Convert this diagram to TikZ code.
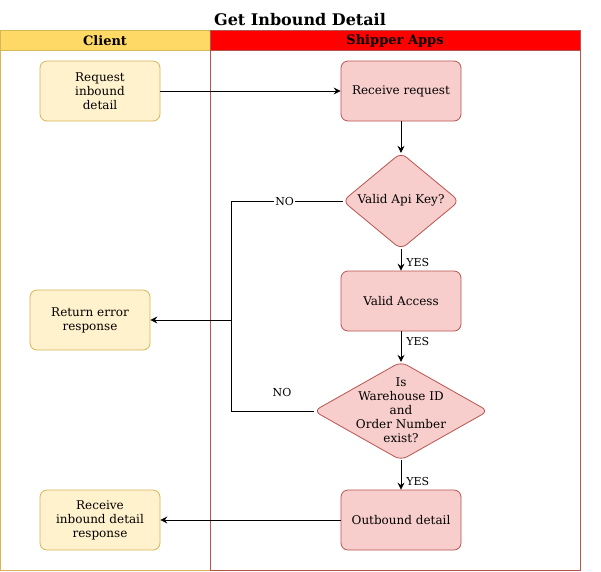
\documentclass[tikz,border=0pt]{standalone}
\usepackage{fontspec}
\setmainfont{DejaVu Serif}
\usetikzlibrary{shapes.geometric,arrows.meta}
\definecolor{clientfill}{HTML}{FFD966}
\definecolor{clientline}{HTML}{D6B656}
\definecolor{ylfill}{HTML}{FFF2CC}
\definecolor{rdfill}{HTML}{F8CECC}
\definecolor{rdline}{HTML}{B85450}
\tikzset{
  ybox/.style={draw=clientline,fill=ylfill,line width=0.8pt,rounded corners=7pt,minimum width=120pt,minimum height=60pt,align=center,font=\fontsize{12}{14}\selectfont,inner sep=2pt},
  rbox/.style={draw=rdline,fill=rdfill,line width=0.8pt,rounded corners=7pt,minimum width=120pt,minimum height=60pt,align=center,font=\fontsize{12}{14}\selectfont,inner sep=2pt},
  rdia/.style={rectangle,align=center,font=\fontsize{12}{14}\selectfont,inner sep=0pt},
  diapath/.style={draw=rdline,fill=rdfill,rounded corners=7pt,line width=0.8pt},
  conn/.style={draw=black,line width=0.8pt,-{Stealth[length=7pt,width=7pt,inset=2.5pt]}},
  lbl/.style={font=\fontsize{11}{13}\selectfont,fill=white,inner sep=1pt},
  lblc/.style={font=\fontsize{11}{13}\selectfont,inner sep=1pt},
  hdr/.style={font=\bfseries\fontsize{13}{15}\selectfont}
}
\begin{document}
\begin{tikzpicture}[x=1pt,y=-1pt]
\useasboundingbox (0,0) rectangle (601,571);
% title
\node[font=\bfseries\fontsize{16}{18}\selectfont] (title) at (300,20) {Get Inbound Detail};
% lanes
\draw[clientline,fill=white,line width=0.8pt] (0,30) rectangle (210,570);
\draw[clientline,fill=clientfill,line width=0.8pt] (0,30) rectangle (210,50);
\node[hdr] (hclient) at (105,40.5) {Client};
\draw[rdline,fill=white,line width=0.8pt] (210,30) rectangle (580,570);
\draw[rdline,fill=red,line width=0.8pt] (210,30) rectangle (580,50);
\node[hdr] (hship) at (395,40.5) {Shipper Apps};
% nodes
\node[ybox] (req) at (100,91) {Request\\inbound\\detail};
\node[rbox] (recv) at (401,91) {Receive request};
\node[rdia,minimum width=116pt,minimum height=96pt] (d1) at (401,201) {};
\draw[diapath] (d1.north) -- (d1.east) -- (d1.south) -- (d1.west) -- cycle;
\node[rdia] (d1t) at ([yshift=1pt]d1.center) {Valid Api Key?};
\node[rbox] (va) at (401,301) {Valid Access};
\node[rdia,minimum width=174pt,minimum height=98pt] (d2) at (401,411) {};
\draw[diapath] (d2.north) -- (d2.east) -- (d2.south) -- (d2.west) -- cycle;
\node[rdia] (d2t) at ([yshift=1pt]d2.center) {Is\\Warehouse ID\\and\\Order Number\\exist?};
\node[rbox] (out) at (401,520) {Outbound detail};
\node[ybox] (err) at (90,320) {Return error\\response};
\node[ybox] (rid) at (100,520) {Receive\\inbound detail\\response};
\coordinate (j) at (231,320);
% connectors
\draw[conn] (req.east) -- (recv.west);
\draw[conn] (recv.south) -- (d1.north);
\draw[conn] (d1.south) -- (va.north) node[lblc,pos=0.64,right=4pt] {YES};
\draw[conn] (va.south) -- (d2.north) node[lblc,pos=0.33,right=4pt] {YES};
\draw[conn] (d2.south) -- (out.north) node[lblc,pos=0.73,right=4pt] {YES};
\draw[conn] (out.west) -- (rid.east);
\draw[line width=0.8pt] (d1.west) -- (231,201) node[lbl,pos=0.52] {NO} -- (j);
\draw[line width=0.8pt] (d2.west) -- (231,411) -- (j);
\node[lblc] (no2) at (282,392) {NO};
\draw[conn] (j) -- (err.east);
\end{tikzpicture}
\end{document}
